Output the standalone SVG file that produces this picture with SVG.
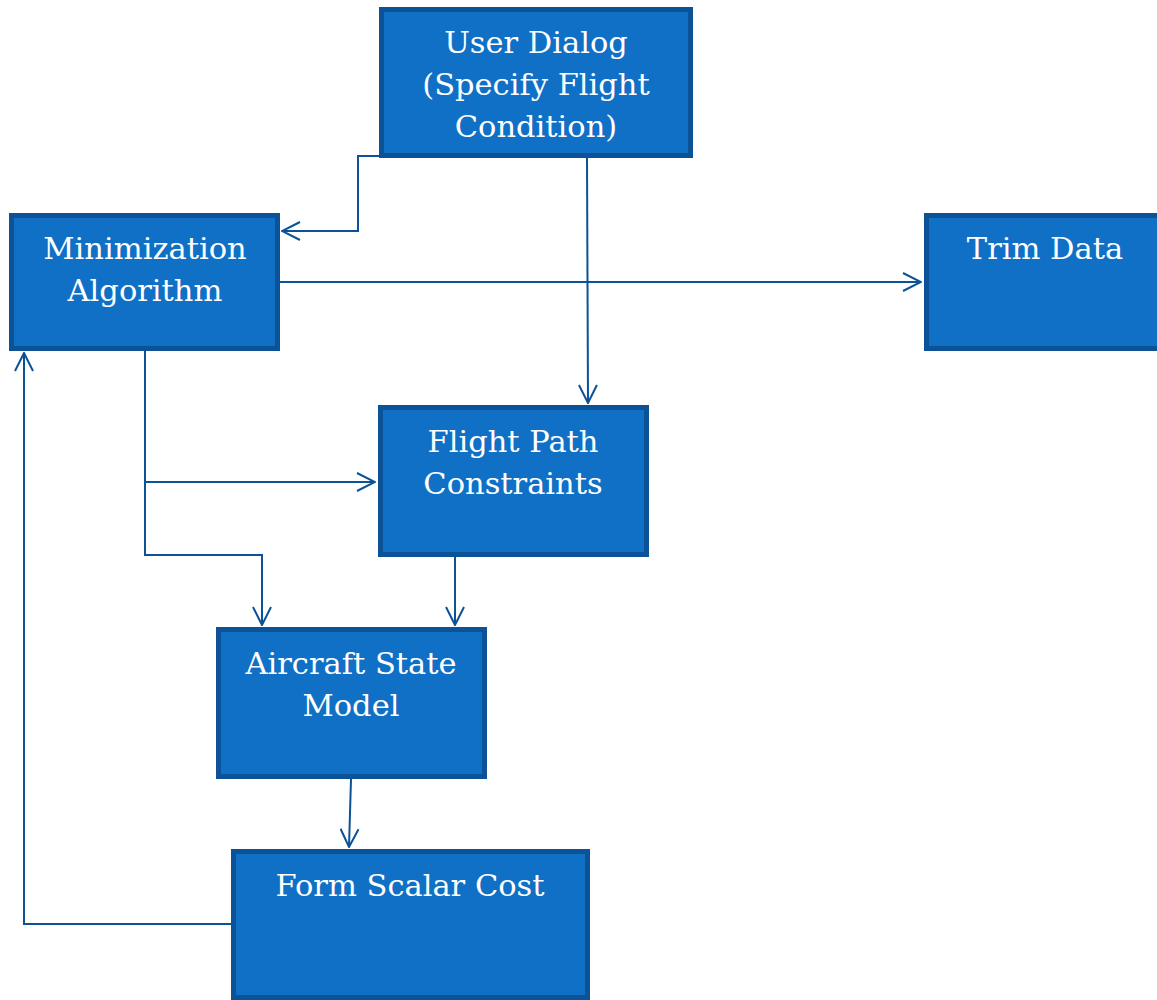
<svg xmlns="http://www.w3.org/2000/svg" width="1157" height="1000" viewBox="0 0 1157 1000">
<defs>
<style>
.box{fill:#1070C6;stroke:#0B5296;stroke-width:5}
.lbl{font-family:"DejaVu Serif","Liberation Serif",serif;font-size:30.5px;fill:#FFFFFF;text-anchor:middle}
.con{fill:none;stroke:#0B5296;stroke-width:2}
</style>
<marker id="arr" markerUnits="userSpaceOnUse" viewBox="0 0 20 20" refX="19" refY="10" markerWidth="20" markerHeight="20" orient="auto">
<path d="M1,1 L19,10 L1,19" fill="none" stroke="#0B5296" stroke-width="2"/>
</marker>
</defs>
<rect width="1157" height="1000" fill="#FFFFFF"/>
<g id="connectors">
<polyline class="con" points="379,156 358,156 358,231 282,231" marker-end="url(#arr)"/>
<line class="con" x1="587" y1="158" x2="588" y2="403" marker-end="url(#arr)"/>
<line class="con" x1="280" y1="282" x2="921" y2="282" marker-end="url(#arr)"/>
<polyline class="con" points="145,351 145,555 262,555 262,625" marker-end="url(#arr)"/>
<line class="con" x1="145" y1="482" x2="375" y2="482" marker-end="url(#arr)"/>
<line class="con" x1="455" y1="557" x2="455" y2="625" marker-end="url(#arr)"/>
<line class="con" x1="351" y1="779" x2="349" y2="847" marker-end="url(#arr)"/>
<polyline class="con" points="231,924 24,924 24,353" marker-end="url(#arr)"/>
</g>
<g id="user-dialog">
<rect class="box" x="381.5" y="9.5" width="309" height="146"/>
<text class="lbl" x="536" y="53">User Dialog</text>
<text class="lbl" x="536" y="95">(Specify Flight</text>
<text class="lbl" x="536" y="137">Condition)</text>
</g>
<g id="minimization">
<rect class="box" x="11.5" y="215.5" width="266" height="133"/>
<text class="lbl" x="145" y="259">Minimization</text>
<text class="lbl" x="145" y="301">Algorithm</text>
</g>
<g id="trim-data">
<rect class="box" x="926.5" y="215.5" width="240" height="133"/>
<text class="lbl" x="1045" y="259">Trim Data</text>
</g>
<g id="flight-path">
<rect class="box" x="380.5" y="407.5" width="266" height="147"/>
<text class="lbl" x="513" y="452">Flight Path</text>
<text class="lbl" x="513" y="494">Constraints</text>
</g>
<g id="aircraft-state">
<rect class="box" x="218.5" y="629.5" width="266" height="147"/>
<text class="lbl" x="351" y="674">Aircraft State</text>
<text class="lbl" x="351" y="716">Model</text>
</g>
<g id="form-scalar-cost">
<rect class="box" x="233.5" y="851.5" width="354" height="146"/>
<text class="lbl" x="410" y="896">Form Scalar Cost</text>
</g>
</svg>
